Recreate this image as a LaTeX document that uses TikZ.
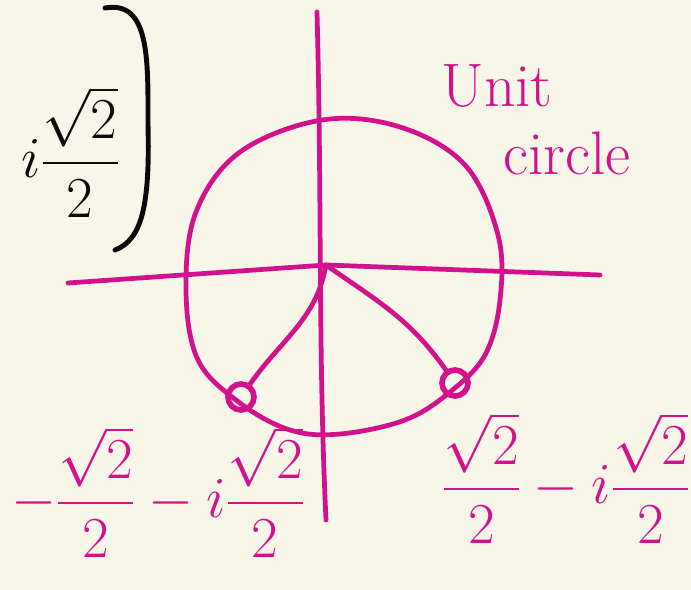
\RequirePackage{fix-cm}
\documentclass[tikz,border=0pt]{standalone}
\usepackage{amsmath}
\usepackage{xcolor}
\usetikzlibrary{positioning}
\definecolor{paper}{HTML}{F8F5E9}
\definecolor{pen}{HTML}{D1128C}
\definecolor{ink}{HTML}{0A0A0A}

\begin{document}
\begin{tikzpicture}[
  x=0.02cm, y=-0.02cm,
  stroke/.style={draw=pen, line width=2.7pt, line cap=round, line join=round},
  blackstroke/.style={draw=ink, line width=2.8pt, line cap=round, line join=round},
  dot/.style={circle, draw=pen, line width=3.2pt, minimum size=0.52cm, inner sep=0pt},
  lbl/.style={text=pen, font=\fontsize{33}{40}\selectfont, inner sep=0pt},
  word/.style={text=pen, font=\fontsize{35}{42}\selectfont, inner sep=0pt},
]
\fill[paper] (0,0) rectangle (691,590);
\useasboundingbox (0,0) rectangle (691,590);

\coordinate (O)  at (326,265);
\coordinate (xl) at (68,283);
\coordinate (xr) at (600,275);
\coordinate (yt) at (317,12);
\coordinate (yb) at (326,520);
\node[dot] (P1) at (241,397) {};
\node[dot] (P2) at (455,383) {};

% axes
\draw[stroke] (xl) -- (O) -- (xr);
\draw[stroke] (yt) .. controls (322,200) and (318,350) .. (yb);

% unit circle
\draw[stroke] plot[smooth cycle, tension=0.6] coordinates {
  (322,120) (400,127) (465,165) (498,235) (500,300) (485,355)
  (450,392) (405,420) (340,434) (290,430) (240,403) (198,360)
  (186,290) (196,212) (240,152)};

\draw[stroke] (O) to[out=-100, in=55] (P1);
\draw[stroke] (O) to[out=-35, in=125] (P2);

\node[word] (unit) at (497,86) {Unit};
\node[word] (circ) at (567,153) {circle};

\node[lbl] (neg) at (158,492) {$\displaystyle -\frac{\sqrt{2}}{2}-i\frac{\sqrt{2}}{2}$};
\node[lbl] (pos) at (566,478) {$\displaystyle \frac{\sqrt{2}}{2}-i\frac{\sqrt{2}}{2}$};

\node[lbl, text=ink, anchor=east] (topi) at (120,152) {$\displaystyle i\frac{\sqrt{2}}{2}$};
\draw[blackstroke] (105,8) .. controls (150,0) and (148,60) .. (148,125)
  .. controls (150,205) and (142,240) .. (115,250);
\end{tikzpicture}
\end{document}
